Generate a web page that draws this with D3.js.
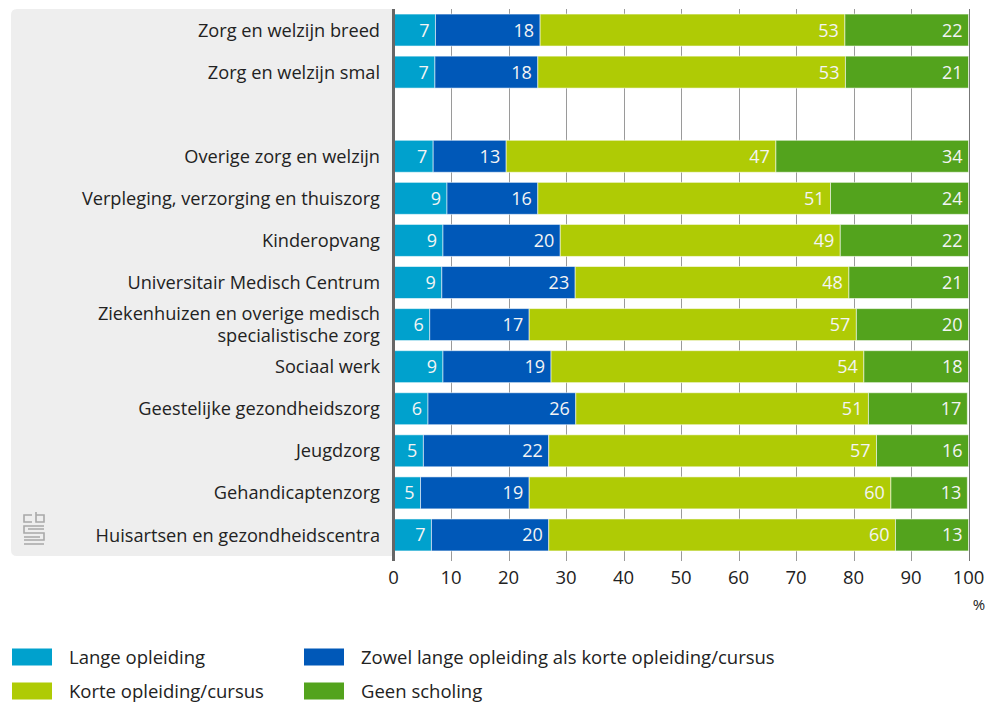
<!DOCTYPE html>
<html><head><meta charset="utf-8">
<script src="https://cdn.jsdelivr.net/npm/d3@7"></script>
<style>
html,body{margin:0;padding:0;background:#fff;}
svg{display:block;font-family:"Open Sans",sans-serif;}
</style></head>
<body><svg id="c" width="992" height="702"></svg>
<script>
const categories = ["Zorg en welzijn breed","Zorg en welzijn smal","",
  "Overige zorg en welzijn","Verpleging, verzorging en thuiszorg","Kinderopvang",
  "Universitair Medisch Centrum","Ziekenhuizen en overige medisch specialistische zorg",
  "Sociaal werk","Geestelijke gezondheidszorg","Jeugdzorg","Gehandicaptenzorg",
  "Huisartsen en gezondheidscentra"];
const seriesNames = ["Lange opleiding","Zowel lange opleiding als korte opleiding/cursus","Korte opleiding/cursus","Geen scholing"];
const colors = ["#00a1cd","#0058b8","#afcb05","#53a31d"];
// bar lengths (%)
const lange = [7.3,7.2,null,6.9,9.3,8.6,8.4,6.3,8.6,6.0,5.2,4.7,6.6];
const zowel = [18.2,17.9,null,12.7,15.8,20.4,23.2,17.3,18.8,25.7,21.8,18.9,20.4];
const korte = [53.0,53.5,null,46.9,50.9,48.7,47.6,56.9,54.4,50.9,57.0,62.9,60.3];
const geen  = [21.5,21.4,null,33.5,24.0,22.3,20.8,19.5,18.2,17.2,16.0,13.3,12.7];
// printed data labels
const langeLbl = [7,7,null,7,9,9,9,6,9,6,5,5,7];
const zowelLbl = [18,18,null,13,16,20,23,17,19,26,22,19,20];
const korteLbl = [53,53,null,47,51,49,48,57,54,51,57,60,60];
const geenLbl  = [22,21,null,34,24,22,21,20,18,17,16,13,13];
const xTicks = [0,10,20,30,40,50,60,70,80,90,100];

(function(){
const values = [lange,zowel,korte,geen];
const labels = [langeLbl,zowelLbl,korteLbl,geenLbl];

const svg = d3.select("#c");
const pLeft = 393.5, pRight = 968.5, pTop = 9, pBottom = 556;
const x = d3.scaleLinear().domain([0,100]).range([pLeft,pRight]);
const y = d3.scaleBand().domain(d3.range(categories.length)).range([pTop,pBottom]).paddingInner(0.24).paddingOuter(0.12);

// grey label panel
svg.append("path")
  .attr("d", `M${pLeft},${pTop} H17 Q11,${pTop} 11,${pTop+6} V${pBottom-6} Q11,${pBottom} 17,${pBottom} H${pLeft} Z`)
  .attr("fill","#eeeeee");

// gridlines
svg.append("g").selectAll("line").data(xTicks.filter(d=>d>0)).join("line")
  .attr("x1",d=>Math.round(x(d))+0.5).attr("x2",d=>Math.round(x(d))+0.5)
  .attr("y1",pTop).attr("y2",pBottom+5)
  .attr("stroke",d=>d===100?"#777":"#9a9a9a").attr("stroke-width",1);

// stacked bars
const rows = categories.map((c,i)=>{
  let acc=0;
  return values.map((arr,s)=>{
    const v=arr[i]; if(v==null) return null;
    const seg={row:i,s,x0:acc,x1:acc+v,lbl:labels[s][i]}; acc+=v; return seg;
  }).filter(Boolean);
}).flat();

const bars = svg.append("g");
bars.selectAll("rect").data(rows).join("rect")
  .attr("x",d=>x(d.x0)).attr("width",d=>x(d.x1)-x(d.x0))
  .attr("y",d=>y(d.row)).attr("height",y.bandwidth())
  .attr("fill",d=>colors[d.s])
  .attr("stroke","rgba(255,255,255,0.55)").attr("stroke-width",1);

bars.selectAll("text").data(rows).join("text")
  .attr("x",d=>x(d.x1)-6).attr("y",d=>y(d.row)+y.bandwidth()/2)
  .attr("dy","0.36em").attr("text-anchor","end")
  .attr("fill","#f4f4f4").attr("font-size",18)
  .text(d=>d.lbl);

// axis line at 0
svg.append("line").attr("x1",x(0)).attr("x2",x(0)).attr("y1",pTop).attr("y2",pBottom+5)
  .attr("stroke","#666").attr("stroke-width",3);

// category labels
const cat = svg.append("g");
categories.forEach((c,i)=>{
  if(!c) return;
  const cy = y(i)+y.bandwidth()/2;
  const t = cat.append("text").attr("x",380).attr("text-anchor","end")
    .attr("font-size",18.2).attr("fill","#222");
  if(c.startsWith("Ziekenhuizen")){
    t.append("tspan").attr("x",380).attr("y",cy-11).attr("dy","0.36em").text("Ziekenhuizen en overige medisch");
    t.append("tspan").attr("x",380).attr("y",cy+11).attr("dy","0.36em").text("specialistische zorg");
  } else {
    t.attr("y",cy).attr("dy","0.36em").text(c);
  }
});

// x axis tick labels
svg.append("g").selectAll("text").data(xTicks).join("text")
  .attr("x",d=>x(d)).attr("y",577).attr("dy","0.36em")
  .attr("text-anchor","middle").attr("font-size",18.5).attr("fill","#222")
  .text(d=>d);
svg.append("text").attr("x",979).attr("y",605).attr("dy","0.36em")
  .attr("text-anchor","middle").attr("font-size",15).attr("fill","#222").text("%");

// CBS logo (approximation)
const logo = svg.append("g").attr("fill","none").attr("stroke","#a8a8a8").attr("stroke-width",1.6);
logo.append("path").attr("d","M32,515 H24 V522 H32");
logo.append("path").attr("d","M36,512 V522 H44 V515 H36");
logo.append("path").attr("d","M44,526 H24 V533 H44 V540 H24");
logo.append("path").attr("d","M44,529 H28 M24,537 H40 M24,544 H44");

// legend
const legendItems = [
  {s:0,x:12,y:657},{s:1,x:304,y:657},{s:2,x:12,y:691},{s:3,x:304,y:691}
];
const lg = svg.append("g");
legendItems.forEach(d=>{
  lg.append("rect").attr("x",d.x).attr("y",d.y-8.5).attr("width",40).attr("height",17).attr("fill",colors[d.s]);
  lg.append("text").attr("x",d.x+57).attr("y",d.y).attr("dy","0.36em")
    .attr("font-size",18.5).attr("fill","#222").text(seriesNames[d.s]);
});
})();
</script></body></html>
